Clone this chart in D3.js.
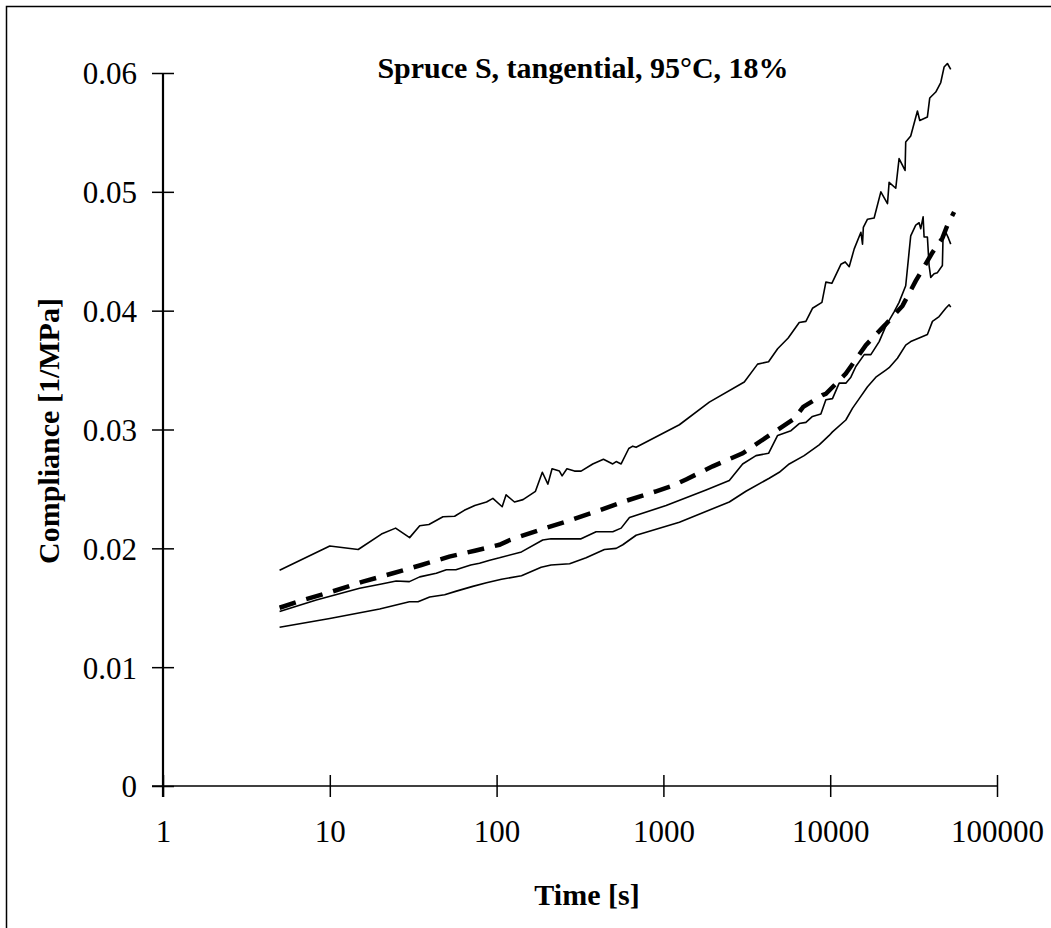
<!DOCTYPE html>
<html>
<head>
<meta charset="utf-8">
<script src="https://cdn.jsdelivr.net/npm/d3@7"></script>
<style>
  html, body { margin: 0; padding: 0; background: #fff; }
  svg { display: block; }
  text { font-family: "Liberation Serif", "Times New Roman", serif; fill: #000; }
</style>
</head>
<body>
<svg id="chart" width="1051" height="928"></svg>
<script>
// Creep compliance of spruce, tangential direction, 95 °C, 18 % moisture
const chartTitle = "Spruce S, tangential, 95°C, 18%";
const xTitle = "Time [s]";
const yTitle = "Compliance [1/MPa]";

const xTicks = [1, 10, 100, 1000, 10000, 100000];
const xTickLabels = ["1", "10", "100", "1000", "10000", "100000"];
const yTicks = [0, 0.01, 0.02, 0.03, 0.04, 0.05, 0.06];
const yTickLabels = ["0", "0.01", "0.02", "0.03", "0.04", "0.05", "0.06"];

// Specimen 1 (highest compliance)
const timeA = [5, 10, 14.8, 20.4, 24.8, 30.1, 34.6, 39.3, 47.7, 56, 64, 74, 87, 95, 108, 114, 128, 144, 171, 188, 203, 215, 238, 247, 264, 293, 321, 377, 437, 497, 521, 558, 620, 655, 686, 1247, 1885, 3055, 3670, 4270, 4840, 5600, 6520, 7150, 7830, 8920, 9420, 10230, 11590, 12300, 13000, 13930, 15280, 15620, 15800, 16740, 18340, 20120, 22050, 22550, 24720, 25880, 28110, 28360, 30390, 33340, 34430, 38260, 39520, 42940, 46000, 48170, 50440, 52800];
const compA = [0.01815, 0.0202, 0.0199, 0.0212, 0.0217, 0.0209, 0.0219, 0.0220, 0.02266, 0.0227, 0.0232, 0.0236, 0.0239, 0.0242, 0.0235, 0.0245, 0.0239, 0.0241, 0.0248, 0.0264, 0.0254, 0.0267, 0.0265, 0.0261, 0.0267, 0.0265, 0.0265, 0.0271, 0.0275, 0.0271, 0.0273, 0.0271, 0.0284, 0.0286, 0.0285, 0.0304, 0.0323, 0.0340, 0.0355, 0.0357, 0.0368, 0.0377, 0.0390, 0.0391, 0.0402, 0.0407, 0.0424, 0.0423, 0.0439, 0.0441, 0.0437, 0.0452, 0.0466, 0.0456, 0.0470, 0.0477, 0.0478, 0.0500, 0.0490, 0.0508, 0.0503, 0.0528, 0.0518, 0.0542, 0.0547, 0.0568, 0.0560, 0.0563, 0.0579, 0.0584, 0.0592, 0.0605, 0.0608, 0.0603];

// Specimen 2 (middle)
const timeB = [5, 8.3, 15.1, 20.4, 25, 30, 34.6, 43.5, 50, 57, 70, 79, 91, 104, 141, 189, 212, 321, 395, 497, 558, 626, 1038, 1802, 2484, 2986, 3590, 4270, 4840, 5820, 6520, 7150, 7830, 8790, 9420, 10320, 11320, 12410, 13300, 14250, 15990, 17530, 19660, 21550, 24150, 25880, 28360, 29700, 30390, 32570, 34120, 34910, 36060, 36550, 38260, 39160, 40070, 41960, 43940, 47050, 47500, 49290, 51160, 52800];
const compB = [0.01468, 0.01566, 0.01664, 0.0170, 0.01725, 0.0172, 0.0176, 0.0179, 0.0182, 0.0182, 0.0186, 0.01874, 0.0190, 0.0192, 0.0197, 0.0207, 0.0208, 0.0208, 0.0214, 0.0214, 0.0217, 0.0226, 0.0236, 0.0249, 0.0257, 0.0271, 0.0278, 0.0280, 0.0295, 0.0299, 0.0305, 0.0306, 0.0311, 0.0313, 0.0325, 0.0326, 0.0339, 0.0339, 0.0344, 0.0353, 0.0363, 0.0363, 0.0374, 0.0387, 0.0399, 0.0407, 0.0421, 0.0449, 0.0463, 0.0472, 0.0474, 0.0469, 0.0479, 0.0462, 0.0462, 0.0438, 0.0428, 0.0431, 0.0432, 0.0438, 0.0463, 0.0466, 0.0461, 0.0456];

// Specimen 3 (lowest compliance)
const timeC = [5, 10, 19.9, 30, 33.8, 39.7, 48.8, 57.4, 72, 87, 107, 141, 185, 212, 274, 344, 443, 521, 571, 686, 1247, 2484, 3125, 4310, 4950, 5680, 6980, 8590, 9860, 10320, 12410, 13620, 14930, 16740, 18780, 21550, 22550, 25300, 28360, 30390, 34120, 38260, 41020, 44960, 49290, 51610, 52800];
const compC = [0.01336, 0.0141, 0.0149, 0.0155, 0.0155, 0.0159, 0.0161, 0.0164, 0.0168, 0.0171, 0.0174, 0.0177, 0.0184, 0.0186, 0.0187, 0.0192, 0.0199, 0.0200, 0.0203, 0.0211, 0.0222, 0.0239, 0.0248, 0.0259, 0.0264, 0.0271, 0.0278, 0.0287, 0.0295, 0.0298, 0.0308, 0.0318, 0.0326, 0.0336, 0.0344, 0.0350, 0.0352, 0.0360, 0.0371, 0.0374, 0.0377, 0.0380, 0.0391, 0.0395, 0.0402, 0.0405, 0.0403];

// Mean curve (dashed)
const timeMean = [5, 7.1, 10, 15.8, 23.9, 35.4, 52, 74, 104, 120, 177, 267, 395, 598, 904, 1150, 1367, 1974, 2986, 4520, 6080, 6890, 8990, 9420, 12410, 16360, 21350, 27100, 32570, 36550, 41020, 47050, 50440, 55300];
const compMean = [0.0150, 0.0157, 0.0163, 0.0172, 0.0179, 0.0186, 0.0193, 0.0198, 0.0203, 0.0207, 0.0215, 0.0223, 0.0231, 0.0240, 0.0248, 0.0253, 0.0258, 0.0269, 0.0280, 0.0297, 0.0309, 0.0319, 0.0329, 0.0330, 0.0347, 0.0371, 0.0388, 0.0404, 0.0425, 0.0437, 0.0449, 0.0461, 0.0472, 0.0483];

const svg = d3.select("#chart");

// outer frame (only its top and left edges fall inside the canvas)
svg.append("rect")
  .attr("x", 6.5).attr("y", 6.5)
  .attr("width", 1200).attr("height", 1200)
  .attr("fill", "none").attr("stroke", "#000").attr("stroke-width", 1.5);

const x = d3.scaleLog().domain([1, 100000]).range([163, 997]);
const y = d3.scaleLinear().domain([0, 0.06]).range([786, 73]);

// x axis with ticks crossing the line
const xAxis = svg.append("g")
  .attr("transform", `translate(0,${y(0)})`)
  .call(d3.axisBottom(x).tickValues(xTicks)
    .tickFormat((d, i) => xTickLabels[i])
    .tickSizeInner(11).tickSizeOuter(0).tickPadding(34));
xAxis.select(".domain").attr("stroke", "#000").attr("stroke-width", 1.5)
  .attr("d", `M${x(1) - 11},0H${x(100000)}`);
xAxis.selectAll(".tick line").attr("y1", -11).attr("stroke", "#000").attr("stroke-width", 1.5);
xAxis.selectAll(".tick text")
  .attr("font-size", 31).attr("font-family", "Liberation Serif, Times New Roman, serif")
  .attr("dy", "0.71em").attr("y", 34);

// y axis with ticks crossing the line
const yAxis = svg.append("g")
  .attr("transform", `translate(${x(1)},0)`)
  .call(d3.axisLeft(y).tickValues(yTicks)
    .tickFormat((d, i) => yTickLabels[i])
    .tickSizeInner(11).tickSizeOuter(0).tickPadding(15));
yAxis.select(".domain").attr("stroke", "#000").attr("stroke-width", 2.2)
  .attr("d", `M0,${y(0.06)}V${y(0) + 11}`);
yAxis.selectAll(".tick line").attr("x1", 11).attr("stroke", "#000").attr("stroke-width", 1.5);
yAxis.selectAll(".tick text")
  .attr("font-size", 31).attr("font-family", "Liberation Serif, Times New Roman, serif")
  .attr("x", -26).attr("dy", "0.35em");

// data curves
const line = d3.line().x(d => x(d[0])).y(d => y(d[1]));
const zip = (ts, vs) => ts.map((t, i) => [t, vs[i]]);

[[timeA, compA], [timeB, compB], [timeC, compC]].forEach(([ts, vs]) => {
  svg.append("path")
    .datum(zip(ts, vs))
    .attr("d", line)
    .attr("fill", "none")
    .attr("stroke", "#000")
    .attr("stroke-width", 1.6)
    .attr("stroke-linejoin", "round");
});

svg.append("path")
  .datum(zip(timeMean, compMean))
  .attr("d", line)
  .attr("fill", "none")
  .attr("stroke", "#000")
  .attr("stroke-width", 4.5)
  .attr("stroke-dasharray", "17,11");

// titles
svg.append("text")
  .attr("x", 583).attr("y", 78)
  .attr("text-anchor", "middle")
  .attr("font-weight", "bold").attr("font-size", 30)
  .text(chartTitle);

svg.append("text")
  .attr("x", 587).attr("y", 905)
  .attr("text-anchor", "middle")
  .attr("font-weight", "bold").attr("font-size", 30)
  .text(xTitle);

svg.append("text")
  .attr("transform", "translate(59,431) rotate(-90)")
  .attr("text-anchor", "middle")
  .attr("font-weight", "bold").attr("font-size", 30)
  .text(yTitle);
</script>
</body>
</html>
